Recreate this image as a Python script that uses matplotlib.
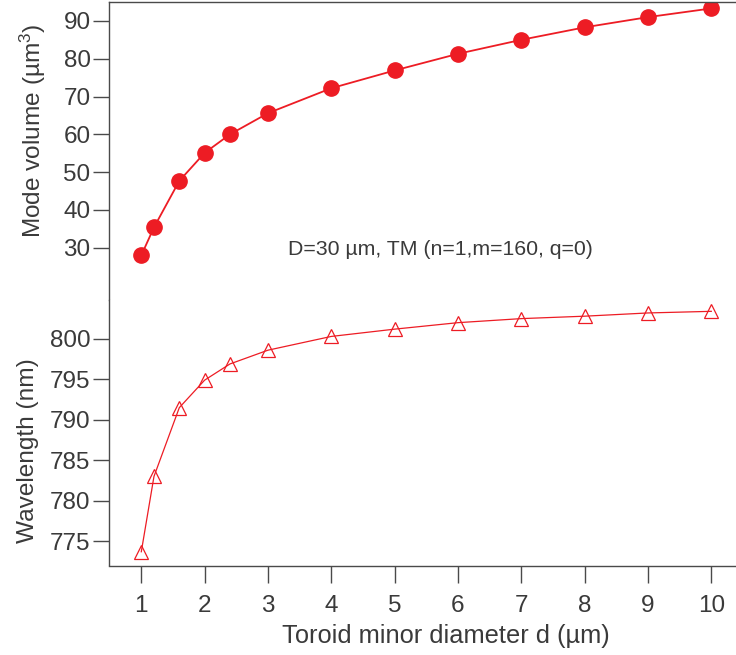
import matplotlib
matplotlib.use("Agg")
import matplotlib.pyplot as plt

plt.rcParams["font.family"] = ["Liberation Sans", "DejaVu Sans"]
plt.rcParams["mathtext.fontset"] = "custom"
plt.rcParams["mathtext.rm"] = "Liberation Sans"
plt.rcParams["mathtext.it"] = "Liberation Sans"

RED = "#ED1C24"
TEXT = "#3A3A3A"
SPINE = "#4A4A4A"

# minor diameter d (um)
d_um = [1, 1.2, 1.6, 2, 2.4, 3, 4, 5, 6, 7, 8, 9, 10]
# mode volume (um^3)
mode_volume = [28.0, 35.4, 47.7, 55.1, 60.0, 65.6, 72.2, 76.9, 81.3, 85.0, 88.3, 91.0, 93.3]
# resonance wavelength (nm)
wavelength = [773.7, 783.0, 791.5, 794.9, 796.9, 798.6, 800.3, 801.2, 802.0,
              802.5, 802.8, 803.2, 803.4]

x_ticks = [1, 2, 3, 4, 5, 6, 7, 8, 9, 10]
vol_ticks = [30, 40, 50, 60, 70, 80, 90]
wl_ticks = [775, 780, 785, 790, 795, 800]

W, H = 736, 655
fig = plt.figure(figsize=(W / 100, H / 100), dpi=100)

left, right = 109 / W, 1.0
ax_top = fig.add_axes([left, 1 - 300 / H, right - left, 298 / H])
ax_bot = fig.add_axes([left, 1 - 565.5 / H, right - left, 265.5 / H])

for ax in (ax_top, ax_bot):
    ax.set_xlim(0.49, 10.39)
    ax.spines["right"].set_visible(False)
    for s in ax.spines.values():
        s.set_color(SPINE)
        s.set_linewidth(1.0)
    ax.tick_params(direction="out", length=11.8, width=1.0, color=SPINE,
                   labelsize=17.5, labelcolor=TEXT, pad=1.5)

# ── Mode volume ──────────────────────────────────────────────
ax_top.plot(d_um, mode_volume, color=RED, lw=1.3, marker="o", ms=11,
            mec=RED, mfc=RED)
ax_top.set_ylim(16.2, 95.0)
ax_top.set_yticks(vol_ticks)
ax_top.spines["bottom"].set_visible(False)
ax_top.tick_params(axis="x", bottom=False, labelbottom=False)
ax_top.set_ylabel("Mode volume (µm$^{3}$)", fontsize=17.6, color=TEXT)
ax_top.yaxis.set_label_coords(-0.098, 0.567)
ax_top.text(5.73, 29.6, "D=30 µm, TM (n=1,m=160, q=0)", fontsize=15.3,
            color=TEXT, ha="center", va="center")

# ── Wavelength ───────────────────────────────────────────────
ax_bot.plot(d_um, wavelength, color=RED, lw=0.9, marker="^", ms=10,
            mec=RED, mfc="none", mew=0.9)
ax_bot.set_ylim(772.0, 804.8)
ax_bot.set_yticks(wl_ticks)
ax_bot.spines["top"].set_visible(False)
ax_bot.set_xticks(x_ticks)
ax_bot.tick_params(axis="x", length=12.4, pad=8.5)
ax_bot.set_ylabel("Wavelength (nm)", fontsize=17.6, color=TEXT)
ax_bot.yaxis.set_label_coords(-0.112, 0.434)
ax_bot.set_xlabel("Toroid minor diameter d (µm)", fontsize=18.3, color=TEXT)
ax_bot.xaxis.set_label_coords(0.537, -0.222)

fig.savefig("out.png", dpi=100)
